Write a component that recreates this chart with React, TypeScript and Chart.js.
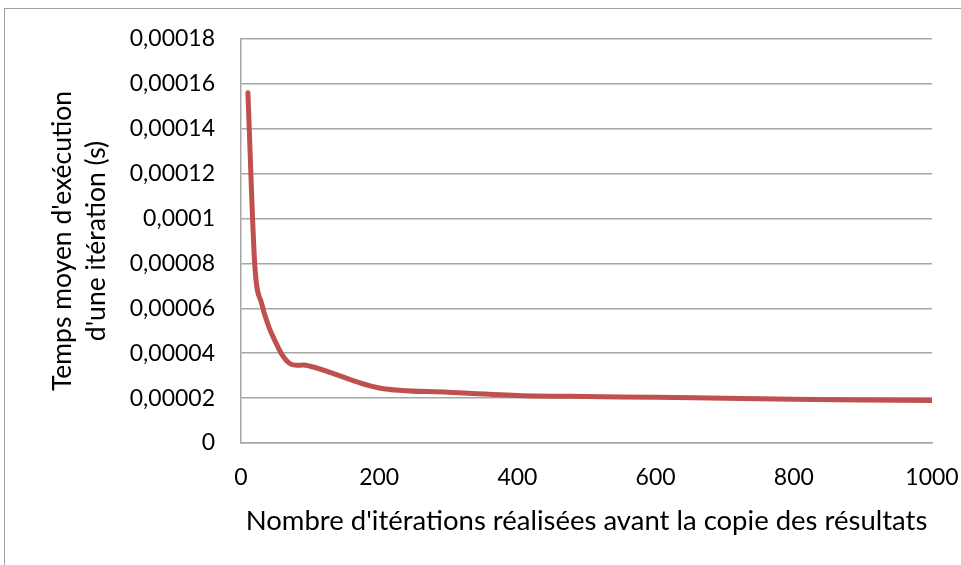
import { useEffect, useRef } from 'react';
import { Chart, registerables } from 'chart.js';

Chart.register(...registerables);

const iterations = [10, 20, 30, 40, 50, 60, 70, 80, 90, 100, 200, 300, 400, 500, 600, 700, 800, 900, 1000];
const meanTimes = [
  0.000156, 0.000079, 0.000062, 0.000052, 0.000045, 0.000039, 0.0000355, 0.0000346, 0.0000347, 0.0000342,
  0.0000245, 0.0000226, 0.0000212, 0.0000207, 0.0000204, 0.0000199, 0.0000195, 0.0000192, 0.0000189,
];
const yTickLabels = ['0', '0,00002', '0,00004', '0,00006', '0,00008', '0,0001', '0,00012', '0,00014', '0,00016', '0,00018'];
const xTickLabels = ['0', '200', '400', '600', '800', '1000'];
const xTitle = "Nombre d'itérations réalisées avant la copie des résultats";
const yTitle = ["Temps moyen d'exécution", "d'une itération (s)"];

const FONT = 'Lato, "Open Sans", sans-serif';
const GRID = '#a6a6a6';

export default function App() {
  const ref = useRef<HTMLCanvasElement | null>(null);

  useEffect(() => {
    if (!ref.current) return;
    const chart = new Chart(ref.current, {
      type: 'line',
      data: {
        datasets: [
          {
            data: iterations.map((x, i) => ({ x, y: meanTimes[i] })),
            borderColor: '#c0504d',
            borderWidth: 5,
            borderCapStyle: 'round',
            borderJoinStyle: 'round',
            pointRadius: 0,
            cubicInterpolationMode: 'monotone',
            fill: false,
          },
        ],
      },
      options: {
        responsive: false,
        animation: false,
        devicePixelRatio: 1,
        layout: { padding: { left: 0, right: 29, top: 39, bottom: 0 } },
        plugins: { legend: { display: false }, tooltip: { enabled: false } },
        scales: {
          x: {
            type: 'linear',
            min: 0,
            max: 1000,
            ticks: {
              stepSize: 200,
              callback: (_v: any, i: number) => xTickLabels[i],
              font: { family: FONT, size: 23 },
              color: '#000',
              padding: 0,
              maxRotation: 0,
            },
            grid: { display: false, drawTicks: true, tickLength: 21, tickColor: 'rgba(0,0,0,0)' },
            border: { display: true, color: GRID, width: 1.5 },
            title: {
              display: true,
              text: xTitle,
              font: { family: FONT, size: 27.5 },
              color: '#000',
              padding: { top: 0, bottom: 27 },
            },
            afterFit: (s: any) => {
              s.height = 122;
            },
          },
          y: {
            type: 'linear',
            min: 0,
            max: 0.00018,
            ticks: {
              stepSize: 0.00002,
              callback: (_v: any, i: number) => yTickLabels[i],
              font: { family: FONT, size: 23 },
              color: '#000',
              padding: 0,
            },
            grid: { color: GRID, lineWidth: 1.5, drawTicks: true, tickLength: 26, tickColor: 'rgba(0,0,0,0)' },
            border: { display: true, color: GRID, width: 1.5 },
            title: {
              display: true,
              text: yTitle,
              font: { family: FONT, size: 26.5, lineHeight: 34 / 26.5 },
              color: '#000',
              padding: { top: 45, bottom: 0 },
            },
            afterFit: (s: any) => {
              s.width = 241;
            },
          },
        },
      },
    } as any);
    return () => chart.destroy();
  }, []);

  return (
    <div style={{ position: 'fixed', left: 0, top: 0, width: 961, height: 565, background: '#fff' }}>
      <div
        style={{
          position: 'absolute',
          left: 4,
          top: 8,
          right: 0,
          bottom: 0,
          borderTop: '1.5px solid #a0a0a0',
          borderLeft: '1.5px solid #a0a0a0',
        }}
      />
      <canvas ref={ref} width={961} height={565} style={{ position: 'absolute', left: 0, top: 0, width: 961, height: 565 }} />
    </div>
  );
}
